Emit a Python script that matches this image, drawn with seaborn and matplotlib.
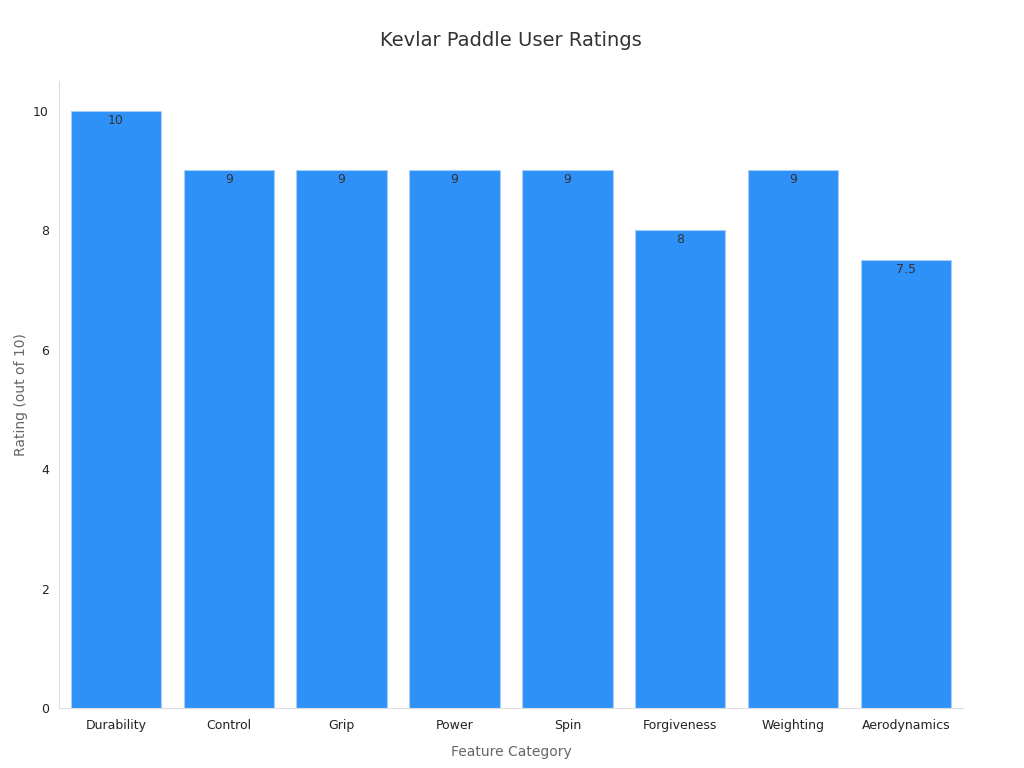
import matplotlib
matplotlib.use("Agg")
import matplotlib.pyplot as plt
import seaborn as sns
import pandas as pd

categories = ["Durability", "Control", "Grip", "Power", "Spin", "Forgiveness", "Weighting", "Aerodynamics"]
ratings = [10, 9, 9, 9, 9, 8, 9, 7.5]
labels = ["10", "9", "9", "9", "9", "8", "9", "7.5"]

df = pd.DataFrame({"Feature": categories, "Rating": ratings})

sns.set_style("white")
fig, ax = plt.subplots(figsize=(10.24, 7.68), dpi=100)
sns.barplot(data=df, x="Feature", y="Rating", color="#2d91f8", saturation=1,
            width=0.8, edgecolor="#a9cdf5", linewidth=0.8, ax=ax)

for i, (v, t) in enumerate(zip(ratings, labels)):
    ax.text(i, v - 0.05, t, ha="center", va="top", fontsize=9, color="#333333")

ax.set_ylim(0, 10.5)
ax.set_xlim(-0.5, 7.5)
ax.set_title("Kevlar Paddle User Ratings", fontsize=14, color="#333333", pad=25)
ax.set_xlabel("Feature Category", fontsize=10, color="#666666", labelpad=10)
ax.set_ylabel("Rating (out of 10)", fontsize=10, color="#666666")
ax.tick_params(axis="both", labelsize=9, colors="#222222", length=4, color="#cccccc")
for s in ["top", "right"]:
    ax.spines[s].set_visible(False)
for s in ["left", "bottom"]:
    ax.spines[s].set_color("#dddddd")

plt.subplots_adjust(left=0.058, right=0.94, top=0.895, bottom=0.078)
fig.savefig("out.png")
